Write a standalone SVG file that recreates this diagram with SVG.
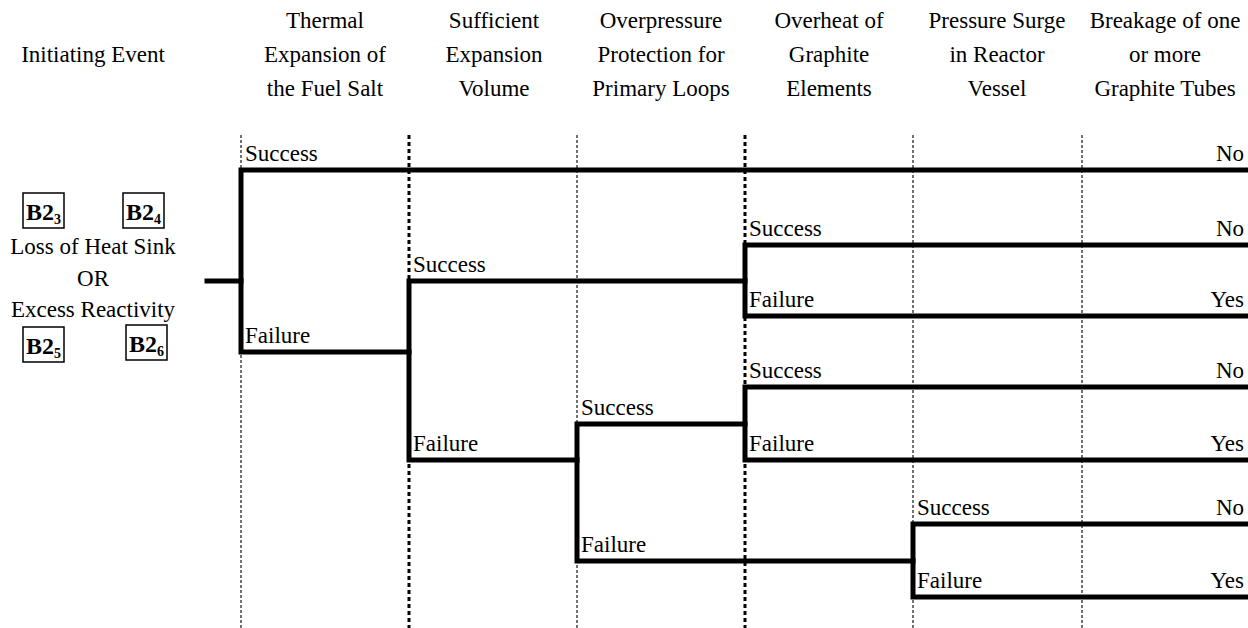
<svg xmlns="http://www.w3.org/2000/svg" width="1248" height="628" viewBox="0 0 1248 628">
<style>
text{font-family:"Liberation Serif","Times New Roman",serif;font-size:23px;fill:#000}
.h{text-anchor:middle}
.e{text-anchor:end}
.b{font-weight:bold;font-size:24px}
.s{font-weight:bold;font-size:14px}
.thin{stroke:#444;stroke-width:1.5;stroke-dasharray:3 2;fill:none}
.thick{stroke:#000;stroke-width:3;stroke-dasharray:4 3;fill:none}
.br{stroke:#000;stroke-width:5;fill:none;stroke-linecap:square;stroke-linejoin:miter}
.box{fill:none;stroke:#000;stroke-width:1.5}
</style>
<rect width="1248" height="628" fill="#fff"/>
<g id="headers">
<text class="h" x="93" y="62">Initiating Event</text>
<text class="h" x="325" y="28">Thermal</text>
<text class="h" x="325" y="62">Expansion of</text>
<text class="h" x="325" y="96">the Fuel Salt</text>
<text class="h" x="494" y="28">Sufficient</text>
<text class="h" x="494" y="62">Expansion</text>
<text class="h" x="494" y="96">Volume</text>
<text class="h" x="661" y="28">Overpressure</text>
<text class="h" x="661" y="62">Protection for</text>
<text class="h" x="661" y="96">Primary Loops</text>
<text class="h" x="829" y="28">Overheat of</text>
<text class="h" x="829" y="62">Graphite</text>
<text class="h" x="829" y="96">Elements</text>
<text class="h" x="997" y="28">Pressure Surge</text>
<text class="h" x="997" y="62">in Reactor</text>
<text class="h" x="997" y="96">Vessel</text>
<text class="h" x="1165" y="28">Breakage of one</text>
<text class="h" x="1165" y="62">or more</text>
<text class="h" x="1165" y="96">Graphite Tubes</text>
</g>
<g id="guides">
<line class="thin" x1="241" y1="135" x2="241" y2="628"/>
<line class="thick" x1="409" y1="135" x2="409" y2="628"/>
<line class="thin" x1="577" y1="135" x2="577" y2="628"/>
<line class="thick" x1="745" y1="135" x2="745" y2="628"/>
<line class="thin" x1="913" y1="135" x2="913" y2="628"/>
<line class="thin" x1="1082" y1="135" x2="1082" y2="628"/>
</g>
<g id="initiating-event">
<rect class="box" x="23" y="193" width="41" height="35"/>
<text class="b" x="26" y="220">B2<tspan class="s" dy="4">3</tspan></text>
<rect class="box" x="123" y="193" width="41" height="35"/>
<text class="b" x="126" y="220">B2<tspan class="s" dy="4">4</tspan></text>
<text class="h" x="93" y="254">Loss of Heat Sink</text>
<text class="h" x="93" y="286">OR</text>
<text class="h" x="93" y="317">Excess Reactivity</text>
<rect class="box" x="23" y="327" width="41" height="35"/>
<text class="b" x="26" y="354">B2<tspan class="s" dy="4">5</tspan></text>
<rect class="box" x="126" y="325" width="41" height="35"/>
<text class="b" x="129" y="352">B2<tspan class="s" dy="4">6</tspan></text>
</g>
<g id="connectors">
<path class="br" d="M207 281 H241"/>
<path class="br" d="M1250 170 H241 V352 H409"/>
<path class="br" d="M745 281 H409 V460 H577"/>
<path class="br" d="M1250 245 H745 V316 H1250"/>
<path class="br" d="M745 424 H577 V561 H913"/>
<path class="br" d="M1250 387 H745 V460 H1250"/>
<path class="br" d="M1250 524 H913 V597 H1250"/>
</g>
<g id="labels">
<text x="245" y="161">Success</text>
<text x="245" y="343">Failure</text>
<text x="413" y="272">Success</text>
<text x="413" y="451">Failure</text>
<text x="581" y="415">Success</text>
<text x="581" y="552">Failure</text>
<text x="749" y="236">Success</text>
<text x="749" y="307">Failure</text>
<text x="749" y="378">Success</text>
<text x="749" y="451">Failure</text>
<text x="917" y="515">Success</text>
<text x="917" y="588">Failure</text>
</g>
<g id="outcomes">
<text class="e" x="1244" y="161">No</text>
<text class="e" x="1244" y="236">No</text>
<text class="e" x="1244" y="307">Yes</text>
<text class="e" x="1244" y="378">No</text>
<text class="e" x="1244" y="451">Yes</text>
<text class="e" x="1244" y="515">No</text>
<text class="e" x="1244" y="588">Yes</text>
</g>
</svg>
